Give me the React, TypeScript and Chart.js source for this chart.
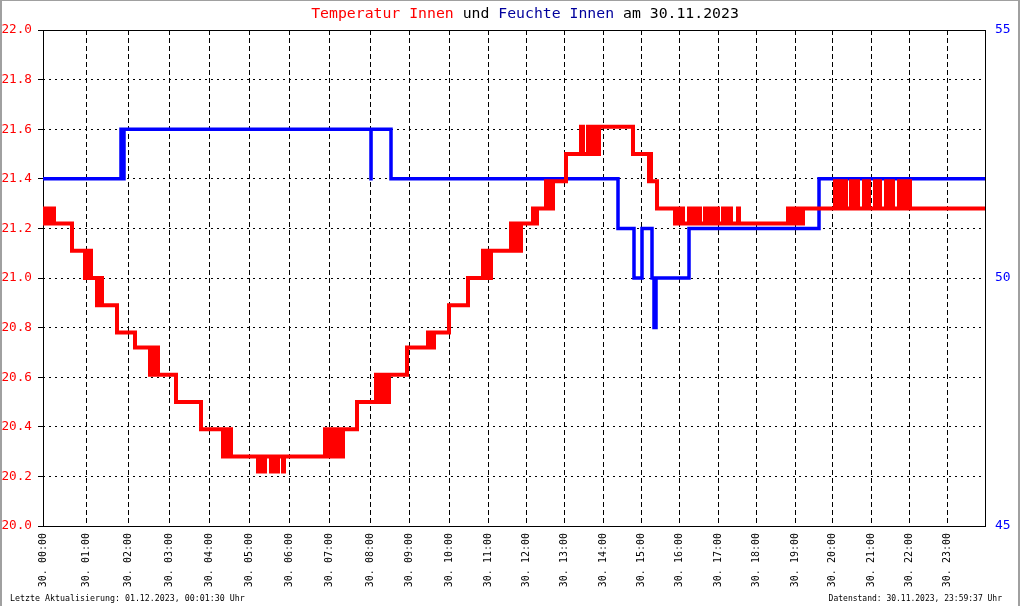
import React, { useEffect, useRef } from "react";
import { Chart, registerables } from "chart.js";

Chart.register(...registerables);

// x domain: sample index (0..942) of the logger for 30.11.2023
const sampleCount = 942;
const hourIdx = [0, 43.7, 85.5, 126.7, 166, 206.3, 246.3, 286.3, 327.7, 366.3, 406.3, 445.3, 483.7, 521.3, 560.3, 598.7, 636.3, 675.3, 713.7, 752, 789.7, 828, 866.3, 904.3];
const hourLabels = [
  "30. 00:00", "30. 01:00", "30. 02:00", "30. 03:00", "30. 04:00", "30. 05:00",
  "30. 06:00", "30. 07:00", "30. 08:00", "30. 09:00", "30. 10:00", "30. 11:00",
  "30. 12:00", "30. 13:00", "30. 14:00", "30. 15:00", "30. 16:00", "30. 17:00",
  "30. 18:00", "30. 19:00", "30. 20:00", "30. 21:00", "30. 22:00", "30. 23:00",
];

// Temperatur Innen (°C), left axis
const tempIdx = [
  0, 1, 3, 4, 7, 8, 10, 11, 29,
  42, 43, 44, 45, 46, 47, 48, 54, 55, 56, 57, 59, 74, 92,
  107, 108, 110, 111, 113, 114, 115, 133, 158,
  180, 181, 183, 184, 186, 187, 188,
  215, 216, 217, 219, 220, 222, 228, 229, 230, 232, 233, 235, 240, 241, 242,
  282, 283, 285, 286, 288, 289, 291, 293, 294, 296, 297, 299, 300, 314,
  333, 334, 336, 337, 339, 341, 342, 344, 346, 364,
  385, 386, 388, 389, 391, 406, 425,
  440, 441, 443, 444, 446, 447, 448,
  468, 469, 472, 473, 475, 476, 478,
  490, 491, 492, 493, 494,
  503, 504, 505, 506, 508, 509, 510, 523,
  538, 540, 545, 546, 548, 549, 551, 552, 554, 555, 556, 590,
  606, 607, 608, 614,
  632, 633, 634, 636, 637, 639, 640, 646, 647, 649, 650, 652, 653, 655, 657,
  662, 663, 665, 666, 668, 669, 671, 672, 674, 675, 680, 681, 683, 684, 687, 688, 695, 696,
  745, 746, 748, 749, 751, 752, 754, 755, 757, 758, 760,
  792, 793, 795, 796, 798, 799, 801, 803,
  808, 809, 811, 812, 814, 815,
  821, 822, 824, 826,
  832, 833, 835, 837,
  843, 844, 846, 847, 849, 850,
  856, 857, 859, 860, 862, 863, 866, 867, 942,
];
const tempVal = [
  21.28, 21.22, 21.28, 21.22, 21.28, 21.22, 21.28, 21.22, 21.11,
  21.0, 21.11, 21.0, 21.11, 21.0, 21.11, 21.0, 20.89, 21.0, 20.89, 21.0, 20.89, 20.78, 20.72,
  20.61, 20.72, 20.61, 20.72, 20.61, 20.72, 20.61, 20.5, 20.39,
  20.28, 20.39, 20.28, 20.39, 20.28, 20.39, 20.28,
  20.22, 20.28, 20.22, 20.28, 20.22, 20.28, 20.22, 20.28, 20.22, 20.28, 20.22, 20.28, 20.22, 20.28, 20.28,
  20.39, 20.28, 20.39, 20.28, 20.39, 20.28, 20.39, 20.28, 20.39, 20.28, 20.39, 20.28, 20.39, 20.5,
  20.61, 20.5, 20.61, 20.5, 20.61, 20.5, 20.61, 20.5, 20.61, 20.72,
  20.78, 20.72, 20.78, 20.72, 20.78, 20.89, 21.0,
  21.11, 21.0, 21.11, 21.0, 21.11, 21.0, 21.11,
  21.22, 21.11, 21.22, 21.11, 21.22, 21.11, 21.22,
  21.28, 21.22, 21.28, 21.22, 21.28,
  21.39, 21.28, 21.39, 21.28, 21.39, 21.28, 21.39, 21.5,
  21.61, 21.5, 21.61, 21.5, 21.61, 21.5, 21.61, 21.5, 21.61, 21.5, 21.61, 21.5,
  21.39, 21.5, 21.39, 21.28,
  21.22, 21.28, 21.22, 21.28, 21.22, 21.28, 21.22, 21.28, 21.22, 21.28, 21.22, 21.28, 21.22, 21.28, 21.22,
  21.28, 21.22, 21.28, 21.22, 21.28, 21.22, 21.28, 21.22, 21.28, 21.22, 21.28, 21.22, 21.28, 21.22, 21.28, 21.22, 21.28, 21.22,
  21.28, 21.22, 21.28, 21.22, 21.28, 21.22, 21.28, 21.22, 21.28, 21.22, 21.28,
  21.39, 21.28, 21.39, 21.28, 21.39, 21.28, 21.39, 21.28,
  21.39, 21.28, 21.39, 21.28, 21.39, 21.28,
  21.39, 21.28, 21.39, 21.28,
  21.39, 21.28, 21.39, 21.28,
  21.39, 21.28, 21.39, 21.28, 21.39, 21.28,
  21.39, 21.28, 21.39, 21.28, 21.39, 21.28, 21.39, 21.28, 21.28,
];

// Feuchte Innen (%), right axis
const humIdx = [0, 78, 80, 81, 328, 328.05, 348, 575, 591, 599, 609, 611, 613, 646, 776, 942];
const humVal = [52, 53, 52, 53, 52, 53, 52, 51, 50, 51, 50, 49, 50, 51, 52, 52];

const tempTicks = [20.0, 20.2, 20.4, 20.6, 20.8, 21.0, 21.2, 21.4, 21.6, 21.8, 22.0];
const humTicks = [45, 50, 55];

const titleParts: [string, string][] = [
  ["Temperatur Innen", "#ff0000"],
  [" und ", "#000000"],
  ["Feuchte Innen", "#00009c"],
  [" am 30.11.2023", "#000000"],
];
const footerLeft = "Letzte Aktualisierung: 01.12.2023, 00:01:30 Uhr";
const footerRight = "Datenstand: 30.11.2023, 23:59:37 Uhr";

const MONO = "'DejaVu Sans Mono', monospace";

export default function App() {
  const ref = useRef<HTMLCanvasElement>(null);

  useEffect(() => {
    const canvas = ref.current;
    if (!canvas) return;

    const decor = {
      id: "decor",
      beforeDatasetsDraw(chart: any) {
        const { ctx, chartArea: a } = chart;
        ctx.save();
        ctx.strokeStyle = "#000";
        ctx.lineWidth = 1;
        ctx.setLineDash([]);
        ctx.strokeRect(Math.round(a.left) + 0.5, Math.round(a.top) + 0.5, Math.round(a.right - a.left), Math.round(a.bottom - a.top));
        ctx.restore();
      },
      afterDraw(chart: any) {
        const { ctx, width, height } = chart;
        ctx.save();
        // title
        ctx.font = `14.8px ${MONO}`;
        ctx.textBaseline = "alphabetic";
        ctx.textAlign = "left";
        const total = titleParts.reduce((s, p) => s + ctx.measureText(p[0]).width, 0);
        let x = 525 - total / 2;
        for (const [t, c] of titleParts) {
          ctx.fillStyle = c;
          ctx.fillText(t, x, 18);
          x += ctx.measureText(t).width;
        }
        // footer
        ctx.fillStyle = "#000";
        ctx.font = `8.3px ${MONO}`;
        ctx.fillText(footerLeft, 10, 601);
        ctx.font = `8px ${MONO}`;
        ctx.textAlign = "right";
        ctx.fillText(footerRight, 1002, 601);
        // outer frame
        ctx.fillStyle = "#a0a0a0";
        ctx.fillRect(0, 0, 2, height);
        ctx.fillRect(width - 2, 0, 2, height);
        ctx.fillRect(0, 0, width, 1);
        ctx.restore();
      },
    };

    const chart = new Chart(canvas, {
      type: "line",
      data: {
        datasets: [
          {
            label: "Temperatur Innen",
            data: tempIdx.map((v, i) => ({ x: v, y: tempVal[i] })),
            yAxisID: "y",
            borderColor: "#ff0000",
            backgroundColor: "#ff0000",
            borderWidth: 4,
            stepped: true,
            pointRadius: 0,
            fill: false,
            borderJoinStyle: "miter",
            borderCapStyle: "butt",
          },
          {
            label: "Feuchte Innen",
            data: humIdx.map((v, i) => ({ x: v, y: humVal[i] })),
            yAxisID: "y2",
            borderColor: "#0000ff",
            backgroundColor: "#0000ff",
            borderWidth: 3.5,
            stepped: true,
            pointRadius: 0,
            fill: false,
            borderJoinStyle: "miter",
            borderCapStyle: "butt",
          },
        ],
      },
      options: {
        responsive: false,
        animation: false,
        devicePixelRatio: 1,
        layout: { padding: { top: 30, left: 0, right: 0, bottom: 0 } },
        plugins: {
          legend: { display: false },
          title: { display: false },
          tooltip: { enabled: false },
        },
        events: [],
        scales: {
          x: {
            type: "linear",
            position: "bottom",
            min: 0,
            max: sampleCount,
            afterBuildTicks: (s: any) => {
              s.ticks = hourIdx.map((v) => ({ value: v }));
            },
            afterFit: (s: any) => {
              s.height = 80;
            },
            ticks: {
              autoSkip: false,
              minRotation: 90,
              maxRotation: 90,
              padding: 7,
              color: "#000",
              font: { family: MONO, size: 10 },
              callback: (_v: any, i: number) => hourLabels[i],
            },
            grid: { color: "#000", lineWidth: 1, drawTicks: false },
            border: { display: false, dash: [5, 3] },
          },
          y: {
            type: "linear",
            position: "left",
            min: 20,
            max: 22,
            afterBuildTicks: (s: any) => {
              s.ticks = tempTicks.map((v) => ({ value: v }));
            },
            afterFit: (s: any) => {
              s.width = 43;
            },
            ticks: {
              padding: 6,
              color: "#ff0000",
              font: { family: MONO, size: 12.7 },
              callback: (v: any) => Number(v).toFixed(1),
            },
            grid: { color: "#000", lineWidth: 1, drawTicks: true, tickLength: 5, tickColor: "#000", tickBorderDash: [] },
            border: { display: false, dash: [2, 4] },
          },
          y2: {
            type: "linear",
            position: "right",
            min: 45,
            max: 55,
            afterBuildTicks: (s: any) => {
              s.ticks = humTicks.map((v) => ({ value: v }));
            },
            afterFit: (s: any) => {
              s.width = 35;
            },
            ticks: {
              padding: 10,
              color: "#0000ff",
              font: { family: MONO, size: 13 },
              callback: (v: any) => String(v),
            },
            grid: { display: false, drawTicks: false, drawOnChartArea: false },
            border: { display: false },
          },
        },
      },
      plugins: [decor],
    } as any);

    return () => chart.destroy();
  }, []);

  return (
    <div style={{ position: "fixed", left: 0, top: 0, width: 1020, height: 606, background: "#fff" }}>
      <canvas ref={ref} width={1020} height={606} style={{ display: "block", width: 1020, height: 606 }} />
    </div>
  );
}
